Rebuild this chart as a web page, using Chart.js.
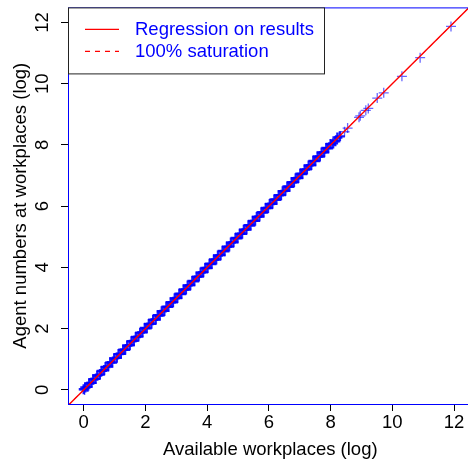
<!DOCTYPE html>
<html>
<head>
<meta charset="utf-8">
<script src="https://cdn.jsdelivr.net/npm/chart.js@4.4.1/dist/chart.umd.min.js"></script>
<style>
  html, body { margin: 0; padding: 0; background: #fff; overflow: hidden; }
  #wrap { width: 480px; height: 459px; }
</style>
</head>
<body>
<div id="wrap"><canvas id="chart" width="480" height="459"></canvas></div>
<script>
// ---------------------------------------------------------------------------
// Data (log scale values)
// ---------------------------------------------------------------------------
// dense cloud of workplaces (overlapping markers form a solid band)
const denseAvailable = [
  0, 0.05, 0.12, 0.18, 0.25, 0.31, 0.38, 0.44, 0.52, 0.58,
  0.66, 0.71, 0.79, 0.86, 0.92, 0.99, 1.07, 1.13, 1.2, 1.28,
  1.34, 1.41, 1.49, 1.55, 1.62, 1.69, 1.77, 1.83, 1.9, 1.98,
  2.04, 2.11, 2.19, 2.25, 2.33, 2.4, 2.46, 2.53, 2.61, 2.68,
  2.74, 2.82, 2.89, 2.95, 3.03, 3.1, 3.16, 3.24, 3.31, 3.37,
  3.45, 3.52, 3.58, 3.66, 3.73, 3.79, 3.87, 3.94, 4.01, 4.08,
  4.14, 4.22, 4.29, 4.35, 4.43, 4.5, 4.56, 4.64, 4.71, 4.77,
  4.85, 4.92, 4.98, 5.06, 5.13, 5.19, 5.27, 5.34, 5.4, 5.48,
  5.55, 5.61, 5.69, 5.76, 5.82, 5.9, 5.97, 6.03, 6.11, 6.18,
  6.24, 6.32, 6.39, 6.45, 6.53, 6.6, 6.66, 6.74, 6.81, 6.87,
  6.95, 7.02, 7.08, 7.16, 7.23, 7.29, 7.37, 7.44, 7.5, 7.58,
  7.65, 7.71, 7.79, 7.86, 7.92, 8.0, 8.08, 8.15, 8.22, 8.3
];
const denseAgents = [
  0.02, 0.08, 0.1, 0.21, 0.23, 0.35, 0.36, 0.47, 0.5, 0.62,
  0.64, 0.75, 0.77, 0.9, 0.89, 1.03, 1.05, 1.17, 1.18, 1.31,
  1.31, 1.45, 1.46, 1.59, 1.6, 1.73, 1.74, 1.87, 1.88, 2.02,
  2.01, 2.15, 2.16, 2.29, 2.3, 2.44, 2.43, 2.57, 2.58, 2.72,
  2.71, 2.86, 2.86, 2.99, 3.0, 3.14, 3.13, 3.28, 3.28, 3.41,
  3.42, 3.56, 3.55, 3.7, 3.7, 3.83, 3.84, 3.98, 3.98, 4.12,
  4.11, 4.26, 4.26, 4.39, 4.4, 4.54, 4.53, 4.68, 4.68, 4.81,
  4.82, 4.96, 4.95, 5.1, 5.1, 5.23, 5.24, 5.38, 5.37, 5.52,
  5.52, 5.65, 5.66, 5.8, 5.79, 5.94, 5.94, 6.07, 6.08, 6.22,
  6.21, 6.36, 6.36, 6.49, 6.5, 6.64, 6.63, 6.78, 6.78, 6.91,
  6.92, 7.06, 7.05, 7.2, 7.2, 7.33, 7.34, 7.48, 7.47, 7.62,
  7.62, 7.75, 7.76, 7.9, 7.89, 8.03, 8.05, 8.12, 8.24, 8.28
];
// the few largest workplaces
const sparseAvailable = [0.03, 8.45, 8.55, 8.92, 8.96, 9.14, 9.22, 9.51, 9.72, 10.31, 10.9, 11.9];
const sparseAgents = [0.0, 8.43, 8.55, 8.9, 8.95, 9.13, 9.19, 9.53, 9.7, 10.24, 10.85, 11.87];

// regression line and the 100% saturation line (y = x)
const lineX = [-1, 13];
const regressionY = [-1, 13];
const saturationY = [-1, 13];

const legendLabels = ["Regression on results", "100% saturation"];
const xTitle = "Available workplaces (log)";
const yTitle = "Agent numbers at workplaces (log)";

const FONT = "'Liberation Sans', Arial, Helvetica, sans-serif";
const BLUE = "#0000ff";
const RED = "#ff0000";

// ---------------------------------------------------------------------------
// Plugin: frame, rotated y tick labels, legend box
// ---------------------------------------------------------------------------
const extras = {
  id: "extras",
  afterDraw(chart) {
    const { ctx, chartArea: a } = chart;
    const ys = chart.scales.y;

    ctx.save();
    // blue frame
    ctx.strokeStyle = BLUE;
    ctx.lineWidth = 1;
    ctx.strokeRect(a.left + 0.5, a.top + 0.5, a.right - a.left, a.bottom - a.top);

    // y tick labels (rotated like R's las=0)
    ctx.fillStyle = "#000";
    ctx.font = `18.5px ${FONT}`;
    ctx.textAlign = "center";
    ctx.textBaseline = "middle";
    ys.ticks.forEach((t) => {
      const py = ys.getPixelForValue(t.value);
      ctx.save();
      ctx.translate(a.left - 25, py);
      ctx.rotate(-Math.PI / 2);
      ctx.fillText(String(t.value), 0, 0);
      ctx.restore();
    });

    // legend
    const bx = a.left + 0.5, by = a.top + 0.5, bw = 256, bh = 66;
    ctx.fillStyle = "#fff";
    ctx.fillRect(bx, by, bw, bh);
    ctx.strokeStyle = "#222";
    ctx.strokeRect(bx, by, bw, bh);

    ctx.textAlign = "left";
    ctx.fillStyle = BLUE;
    ctx.lineWidth = 1.4;
    legendLabels.forEach((label, i) => {
      const ly = a.top + 22 + i * 22;
      ctx.strokeStyle = RED;
      ctx.setLineDash(i === 1 ? [5, 5] : []);
      ctx.beginPath();
      ctx.moveTo(a.left + 17, ly);
      ctx.lineTo(a.left + 51, ly);
      ctx.stroke();
      ctx.setLineDash([]);
      ctx.fillText(label, a.left + 67, ly + 1);
    });
    ctx.restore();
  },
};

// ---------------------------------------------------------------------------
// Chart
// ---------------------------------------------------------------------------
new Chart(document.getElementById("chart"), {
  type: "scatter",
  data: {
    datasets: [
      {
        label: legendLabels[0],
        type: "line",
        data: lineX.map((x, i) => ({ x, y: regressionY[i] })),
        borderColor: RED,
        borderWidth: 1.4,
        pointRadius: 0,
        fill: false,
      },
      {
        label: legendLabels[1],
        type: "line",
        data: lineX.map((x, i) => ({ x, y: saturationY[i] })),
        borderColor: RED,
        borderWidth: 1,
        borderDash: [5, 5],
        pointRadius: 0,
        fill: false,
      },
      {
        label: "Large workplaces",
        data: sparseAvailable.map((x, i) => ({ x, y: sparseAgents[i] })),
        pointStyle: "cross",
        pointRadius: 5,
        borderColor: "rgba(0, 0, 255, 0.6)",
        backgroundColor: "rgba(0, 0, 255, 0.6)",
        borderWidth: 1.3,
      },
      {
        label: "Workplaces",
        data: denseAvailable.map((x, i) => ({ x, y: denseAgents[i] })),
        pointStyle: "cross",
        pointRadius: 5,
        borderColor: "rgba(0, 0, 255, 0.9)",
        backgroundColor: "rgba(0, 0, 255, 0.9)",
        borderWidth: 2.4,
      },
    ],
  },
  options: {
    responsive: false,
    animation: false,
    events: [],
    layout: { padding: 0 },
    plugins: {
      legend: { display: false },
      tooltip: { enabled: false },
    },
    scales: {
      x: {
        type: "linear",
        min: -0.51,
        max: 12.6,
        afterFit: (s) => { s.height = 55; },
        border: { display: false },
        grid: { drawOnChartArea: false, drawTicks: true, tickLength: 7, tickColor: "#000" },
        ticks: {
          stepSize: 2,
          includeBounds: false,
          color: "#000",
          padding: 1,
          maxRotation: 0,
          font: { family: FONT, size: 18.5 },
        },
        title: {
          display: true,
          text: xTitle,
          color: "#000",
          padding: 0,
          font: { family: FONT, size: 18.5, lineHeight: 1 },
        },
      },
      y: {
        type: "linear",
        min: -0.46,
        max: 12.49,
        afterFit: (s) => { s.width = 68; },
        border: { display: false },
        grid: { drawOnChartArea: false, drawTicks: true, tickLength: 7, tickColor: "#000" },
        ticks: { stepSize: 2, includeBounds: false, display: false },
        title: {
          display: true,
          text: yTitle,
          color: "#000",
          padding: { top: 12, bottom: 0 },
          font: { family: FONT, size: 18.5, lineHeight: 1 },
        },
      },
    },
  },
  plugins: [extras],
});
</script>
</body>
</html>
